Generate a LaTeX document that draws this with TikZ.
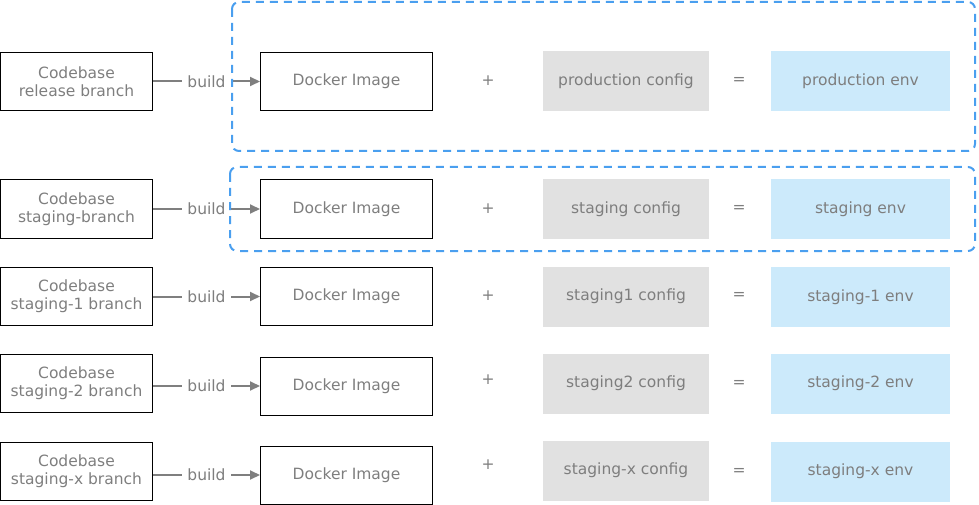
\documentclass[tikz,border=0pt]{standalone}
\usepackage{fontspec}
\setmainfont{DejaVu Sans}
\usetikzlibrary{arrows.meta}
\definecolor{txtgray}{HTML}{7E7E7E}
\definecolor{lngray}{HTML}{7F7F7F}
\definecolor{cfgfill}{HTML}{E1E1E1}
\definecolor{envfill}{HTML}{CCEAFB}
\definecolor{dashblue}{HTML}{4A9FEF}
\tikzset{
  base/.style={font=\fontsize{15.5}{18}\selectfont, text=txtgray, align=center, inner sep=0pt},
  cbbox/.style={base, draw=black, line width=1pt, minimum width=152pt, minimum height=58pt},
  dkbox/.style={base, draw=black, line width=1pt, minimum width=172pt, minimum height=58pt},
  cfbox/.style={base, fill=cfgfill, minimum width=166pt, minimum height=60pt},
  envbox/.style={base, fill=envfill, minimum width=179pt, minimum height=60pt},
  opnode/.style={base},
  buildarrow/.style={draw=lngray, line width=2pt, -{Triangle[length=10pt,width=9pt]}},
  buildlabel/.style={base, fill=white, inner xsep=5.5pt, inner ysep=2pt},
  dashbox/.style={draw=dashblue, line width=2pt, dash pattern=on 8pt off 6pt, rounded corners=7pt}
}
\begin{document}
\begin{tikzpicture}[x=1pt,y=-1pt]
\useasboundingbox (0,0) rectangle (979,505);
% rows
\foreach \i/\ycb/\ydk/\ycf/\yenv/\ypl/\yeq/\cbtxt/\cftxt/\envtxt in {
  1/81.5/81.5/81.5/81.5/81/81/{Codebase\\release branch}/{production config}/{production env},
  2/209/209/209/209/209/209/{Codebase\\staging-branch}/{staging config}/{staging env},
  3/296.5/296.5/296.5/297/296/296/{Codebase\\staging-1 branch}/{staging1 config}/{staging-1 env},
  4/383/386/383.5/383.5/380/384/{Codebase\\staging-2 branch}/{staging2 config}/{staging-2 env},
  5/471.5/475/470.5/471.5/465/472/{Codebase\\staging-x branch}/{staging-x config}/{staging-x env}}{
  \node[cbbox] (cb\i) at (76.5,\ycb) {\cbtxt};
  \node[dkbox] (dk\i) at (346.5,\ydk) {Docker Image};
  \node[cfbox] (cf\i) at (626,\ycf) {\cftxt};
  \node[envbox] (env\i) at (860.5,\yenv) {\envtxt};
  \node[opnode] (pl\i) at (488,\ypl) {+};
  \node[opnode] (eq\i) at (739,\yeq) {=};
  \draw[buildarrow] (cb\i.east |- dk\i.west) -- node[buildlabel] (bl\i) {build} (dk\i.west);
}
% dashed groups
\draw[dashbox] (232,2) rectangle (975,151);
\draw[dashbox] (230,167) rectangle (975,251);
\end{tikzpicture}
\end{document}
